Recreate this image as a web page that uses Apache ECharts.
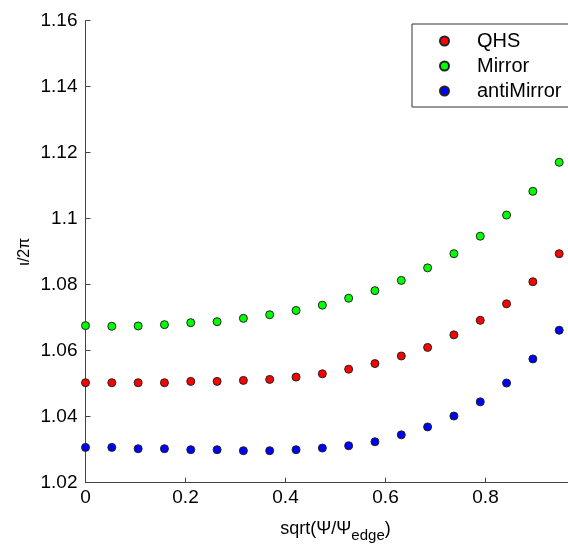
<!DOCTYPE html>
<html>
<head>
<meta charset="utf-8">
<script src="https://cdn.jsdelivr.net/npm/echarts@6/dist/echarts.min.js"></script>
<style>html,body{margin:0;padding:0;background:#fff}#c{width:568px;height:545px}</style>
</head>
<body>
<div id="c"></div>
<script>
// x positions: sqrt(Psi/Psi_edge)
const xValues = [0, 0.0526, 0.1053, 0.1579, 0.2105, 0.2632, 0.3158, 0.3684, 0.4211, 0.4737,
  0.5263, 0.5789, 0.6316, 0.6842, 0.7368, 0.7895, 0.8421, 0.8947, 0.9474];
const qhs = [1.0503, 1.0503, 1.0503, 1.0503, 1.0507, 1.0507, 1.0510, 1.0513, 1.0520, 1.0530,
  1.0544, 1.0561, 1.0584, 1.0610, 1.0648, 1.0692, 1.0742, 1.0809, 1.0894];
const mirror = [1.0676, 1.0674, 1.0675, 1.0679, 1.0685, 1.0688, 1.0698, 1.0709, 1.0722, 1.0738,
  1.0759, 1.0782, 1.0813, 1.0851, 1.0894, 1.0947, 1.1011, 1.1083, 1.1171];
const antiMirror = [1.0307, 1.0307, 1.0303, 1.0303, 1.0300, 1.0300, 1.0297, 1.0297, 1.0300, 1.0305,
  1.0312, 1.0324, 1.0345, 1.0369, 1.0402, 1.0445, 1.0502, 1.0575, 1.0662];
const seriesNames = ['QHS', 'Mirror', 'antiMirror'];
const seriesColors = ['#ff0000', '#00ff00', '#0000ff'];
const seriesData = [qhs, mirror, antiMirror];

const FONT = 'Liberation Sans, Arial, sans-serif';
const chart = echarts.init(document.getElementById('c'), null, {renderer: 'canvas'});
const axisCommon = {
  axisLine: {show: true, lineStyle: {color: '#444', width: 1}},
  axisTick: {show: true, inside: true, length: 5, lineStyle: {color: '#444'}},
  splitLine: {show: false},
  axisLabel: {color: '#000', fontSize: 19, fontFamily: FONT}
};
chart.setOption({
  animation: false,
  backgroundColor: '#fff',
  grid: {left: 85.5, top: 20.7, bottom: 62.3, right: -17.5, containLabel: false, outerBoundsMode: 'none'},
  xAxis: Object.assign({}, axisCommon, {
    type: 'value', min: 0, max: 1, interval: 0.2,
    axisLabel: Object.assign({}, axisCommon.axisLabel, {margin: 6}),
    name: '{n|sqrt(Ψ/Ψ}{s|edge}{n|)}',
    nameLocation: 'middle', nameGap: 32, nameMoveOverlap: false,
    nameTextStyle: {
      rich: {
        n: {fontSize: 18, fontFamily: FONT, color: '#000'},
        s: {fontSize: 15, fontFamily: FONT, color: '#000', padding: [14, 0, 0, 0]}
      }
    }
  }),
  yAxis: Object.assign({}, axisCommon, {
    type: 'value', min: 1.02, max: 1.16, interval: 0.02,
    axisLabel: Object.assign({}, axisCommon.axisLabel, {margin: 8}),
    name: 'ι/2π', nameLocation: 'middle', nameGap: 53, nameRotate: 90, nameMoveOverlap: false,
    nameTextStyle: {fontSize: 16, fontFamily: FONT, color: '#000'}
  }),
  legend: {
    orient: 'vertical', left: 412, top: 24,
    padding: [7, 40, 6, 27],
    backgroundColor: '#fff', borderColor: '#333', borderWidth: 1,
    itemWidth: 55, itemHeight: 9, itemGap: 5,
    textStyle: {fontSize: 20, fontFamily: FONT, color: '#000', lineHeight: 20},
    data: seriesNames
  },
  series: seriesNames.map((name, i) => ({
    name: name, type: 'scatter', symbol: 'circle', symbolSize: 8,
    itemStyle: {color: seriesColors[i], borderColor: '#222', borderWidth: 1, opacity: 1},
    data: xValues.map((x, j) => [x, seriesData[i][j]])
  }))
});
</script>
</body>
</html>
